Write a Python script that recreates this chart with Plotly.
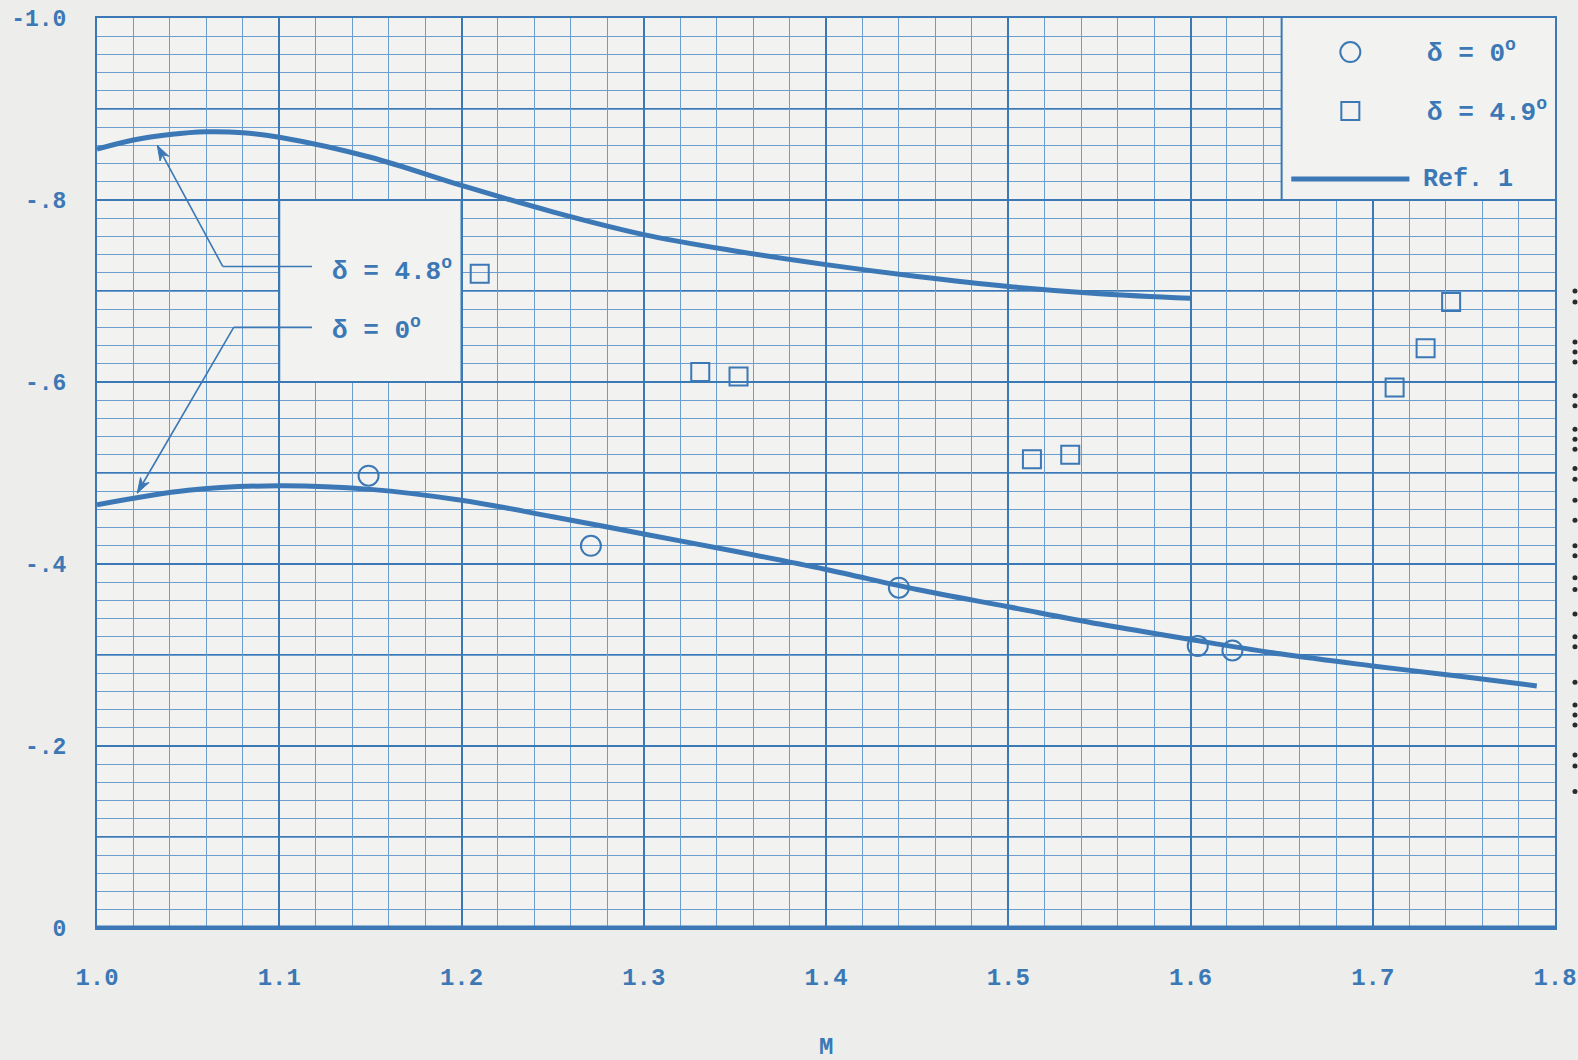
import math
import plotly.graph_objects as go

# Mach number / coefficient data
ref_upper_m = [1.00, 1.02, 1.04, 1.06, 1.08, 1.10, 1.15, 1.20, 1.25, 1.30, 1.35, 1.40, 1.45, 1.50, 1.55, 1.60]
ref_upper_c = [-0.856, -0.866, -0.872, -0.875, -0.874, -0.869, -0.847, -0.816, -0.787, -0.762, -0.744, -0.729, -0.716, -0.705, -0.697, -0.692]

ref_lower_m = [1.00, 1.05, 1.10, 1.15, 1.20, 1.25, 1.30, 1.35, 1.40, 1.45, 1.50, 1.55, 1.60, 1.65, 1.70, 1.75, 1.79]
ref_lower_c = [-0.465, -0.481, -0.486, -0.482, -0.470, -0.452, -0.433, -0.414, -0.394, -0.372, -0.353, -0.334, -0.317, -0.301, -0.288, -0.276, -0.266]

circ_m = [1.149, 1.271, 1.440, 1.604, 1.623]
circ_c = [-0.497, -0.420, -0.374, -0.310, -0.305]

sq_m = [1.210, 1.331, 1.352, 1.513, 1.534, 1.712, 1.729, 1.743]
sq_c = [-0.719, -0.611, -0.606, -0.515, -0.520, -0.594, -0.637, -0.688]

x_ticks = [1.0, 1.1, 1.2, 1.3, 1.4, 1.5, 1.6, 1.7, 1.8]
x_labels = ["1.0", "1.1", "1.2", "1.3", "1.4", "1.5", "1.6", "1.7", "1.8"]
y_ticks = [-1.0, -0.8, -0.6, -0.4, -0.2, 0.0]
y_labels = ["-1.0", "-.8", "-.6", "-.4", "-.2", "0"]
# heavier rulings between the labelled values
y_mid_rules = [-0.9, -0.7, -0.5, -0.3, -0.1]

INK = "#3b78b5"
MINOR = "#6b9dcd"
PAPER = "#ededeb"
CELL = "#f2f2f0"
FONT = "Liberation Mono"

W, H = 1578, 1060
ML, MR, MT, MB = 97, 23, 18, 132
X_RANGE = [1.0, 1.8]
Y_RANGE = [0, -1.0]
PX_X = (W - ML - MR) / (X_RANGE[1] - X_RANGE[0])
PX_Y = (H - MT - MB) / (Y_RANGE[0] - Y_RANGE[1])

fig = go.Figure()

for m, c in [(ref_upper_m, ref_upper_c), (ref_lower_m, ref_lower_c)]:
    fig.add_trace(go.Scatter(x=m, y=c, mode="lines", line=dict(color=INK, width=5, shape="spline"),
                             showlegend=False, hoverinfo="skip"))

fig.add_trace(go.Scatter(x=circ_m, y=circ_c, mode="markers",
                         marker=dict(symbol="circle-open", size=20, color=INK, line=dict(width=2, color=INK)),
                         showlegend=False))
fig.add_trace(go.Scatter(x=sq_m, y=sq_c, mode="markers",
                         marker=dict(symbol="square-open", size=18, color=INK, line=dict(width=2, color=INK)),
                         showlegend=False))

shapes = []
for yv in y_mid_rules:
    shapes.append(dict(type="line", xref="x", yref="y", x0=X_RANGE[0], x1=X_RANGE[1], y0=yv, y1=yv,
                       line=dict(color=INK, width=2), layer="below"))

# blank panels on the graph paper for the key and the curve labels
shapes.append(dict(type="rect", xref="x", yref="y", x0=1.1, x1=1.2, y0=-0.8, y1=-0.6,
                   fillcolor=CELL, line=dict(width=0), layer="between"))
shapes.append(dict(type="rect", xref="x", yref="y", x0=1.65, x1=1.8, y0=-1.0, y1=-0.8,
                   fillcolor=CELL, line=dict(width=0), layer="between"))
for xv in [1.1, 1.2]:
    shapes.append(dict(type="line", xref="x", yref="y", x0=xv, x1=xv, y0=-0.8, y1=-0.6,
                       line=dict(color=INK, width=2), layer="between"))
for yv in [-0.8, -0.6]:
    shapes.append(dict(type="line", xref="x", yref="y", x0=1.1, x1=1.2, y0=yv, y1=yv,
                       line=dict(color=INK, width=2), layer="between"))
shapes.append(dict(type="line", xref="x", yref="y", x0=1.65, x1=1.65, y0=-1.0, y1=-0.8,
                   line=dict(color=INK, width=2), layer="between"))
shapes.append(dict(type="line", xref="x", yref="y", x0=1.65, x1=1.8, y0=-0.8, y1=-0.8,
                   line=dict(color=INK, width=2), layer="between"))

# heavy base line at zero
shapes.append(dict(type="line", xref="x", yref="y", x0=X_RANGE[0], x1=X_RANGE[1], y0=0, y1=0,
                   line=dict(color=INK, width=5), layer="above"))


def leader(corner, end, tip, head_len=15, head_half=5):
    """Bent leader: horizontal stub from the label, then a slanted arrow to the curve."""
    out = [
        dict(type="line", xref="x", yref="y", x0=corner[0], x1=end[0], y0=corner[1], y1=corner[1],
             line=dict(color=INK, width=1.6)),
        dict(type="line", xref="x", yref="y", x0=corner[0], x1=tip[0], y0=corner[1], y1=tip[1],
             line=dict(color=INK, width=1.6)),
    ]
    # arrow head, sized in screen pixels
    dx = (tip[0] - corner[0]) * PX_X
    dy = -(tip[1] - corner[1]) * PX_Y
    n = math.hypot(dx, dy)
    ux, uy = dx / n, dy / n
    bx, by = -ux * head_len, -uy * head_len
    px, py = -uy * head_half, ux * head_half
    pts = [(0, 0), (bx + px, by + py), (bx * 0.7, by * 0.7), (bx - px, by - py)]
    path = "M " + " L ".join(f"{tip[0] + p[0] / PX_X:.5f},{tip[1] - p[1] / PX_Y:.5f}" for p in pts) + " Z"
    out.append(dict(type="path", xref="x", yref="y", path=path, fillcolor=INK, line=dict(color=INK, width=1)))
    return out


shapes += leader((1.069, -0.727), (1.118, -0.727), (1.0331, -0.860))
shapes += leader((1.075, -0.660), (1.118, -0.660), (1.0221, -0.478))

# key symbols
shapes.append(dict(type="circle", xref="x", yref="y", xsizemode="pixel", ysizemode="pixel",
                   xanchor=1.6877, yanchor=-0.9626, x0=-10, x1=10, y0=-10, y1=10,
                   line=dict(color=INK, width=2)))
shapes.append(dict(type="rect", xref="x", yref="y", xsizemode="pixel", ysizemode="pixel",
                   xanchor=1.6877, yanchor=-0.8978, x0=-9, x1=9, y0=-9, y1=9,
                   line=dict(color=INK, width=2)))
shapes.append(dict(type="line", xref="x", yref="y", x0=1.6553, x1=1.7201, y0=-0.823, y1=-0.823,
                   line=dict(color=INK, width=5)))

# column of dots along the right margin of the sheet
dot_y = [0.700, 0.688, 0.644, 0.633, 0.622, 0.585, 0.574, 0.548, 0.537, 0.526, 0.505, 0.493,
         0.470, 0.448, 0.420, 0.409, 0.385, 0.372, 0.345, 0.320, 0.309, 0.270, 0.245, 0.234,
         0.223, 0.190, 0.178, 0.150]
for dy in dot_y:
    shapes.append(dict(type="circle", xref="paper", yref="paper", xsizemode="pixel", ysizemode="pixel",
                       xanchor=1.0137, yanchor=dy, x0=-2.5, x1=2.5, y0=-2.5, y1=2.5,
                       fillcolor="#2b2b2b", line=dict(width=0)))

txt = dict(family=FONT, size=26, color=INK)
annotations = [
    dict(x=1.128, y=-0.7235, xref="x", yref="y", text="<b>δ = 4.8<sup>o</sup></b>", showarrow=False,
         xanchor="left", yanchor="middle", font=txt),
    dict(x=1.128, y=-0.658, xref="x", yref="y", text="<b>δ = 0<sup>o</sup></b>", showarrow=False,
         xanchor="left", yanchor="middle", font=txt),
    dict(x=1.7284, y=-0.9626, xref="x", yref="y", text="<b>δ = 0<sup>o</sup></b>", showarrow=False,
         xanchor="left", yanchor="middle", font=txt),
    dict(x=1.7284, y=-0.8978, xref="x", yref="y", text="<b>δ = 4.9<sup>o</sup></b>", showarrow=False,
         xanchor="left", yanchor="middle", font=txt),
    dict(x=1.7267, y=-0.823, xref="x", yref="y", text="<b>Ref. 1</b>", showarrow=False,
         xanchor="left", yanchor="middle", font=dict(family=FONT, size=25, color=INK)),
    dict(x=0.5, y=-0.131, xref="paper", yref="paper", text="<b>M</b>", showarrow=False,
         xanchor="center", yanchor="middle", font=dict(family=FONT, size=24, color=INK)),
]

fig.update_layout(
    width=W, height=H,
    margin=dict(l=ML, r=MR, t=MT, b=MB, autoexpand=False),
    paper_bgcolor=PAPER, plot_bgcolor=CELL,
    shapes=shapes, annotations=annotations,
    showlegend=False,
    xaxis=dict(range=X_RANGE, tickvals=x_ticks, ticktext=[f"<b>{t}</b>" for t in x_labels], ticks="",
               ticklabelstandoff=26, tickfont=dict(family=FONT, size=24, color=INK), automargin=False,
               showgrid=True, gridcolor=INK, gridwidth=2, zeroline=False,
               showline=True, linecolor=INK, linewidth=2, mirror=True,
               minor=dict(dtick=0.02, showgrid=True, gridcolor=MINOR, gridwidth=1, ticks="")),
    yaxis=dict(range=Y_RANGE, tickvals=y_ticks, ticktext=[f"<b>{t}</b>" for t in y_labels], ticks="",
               ticklabelstandoff=24, tickfont=dict(family=FONT, size=23, color=INK), automargin=False,
               showgrid=True, gridcolor=INK, gridwidth=2, zeroline=False,
               showline=True, linecolor=INK, linewidth=2, mirror=True,
               minor=dict(dtick=0.02, showgrid=True, gridcolor=MINOR, gridwidth=1, ticks="")),
)

fig.write_html("out.html")
